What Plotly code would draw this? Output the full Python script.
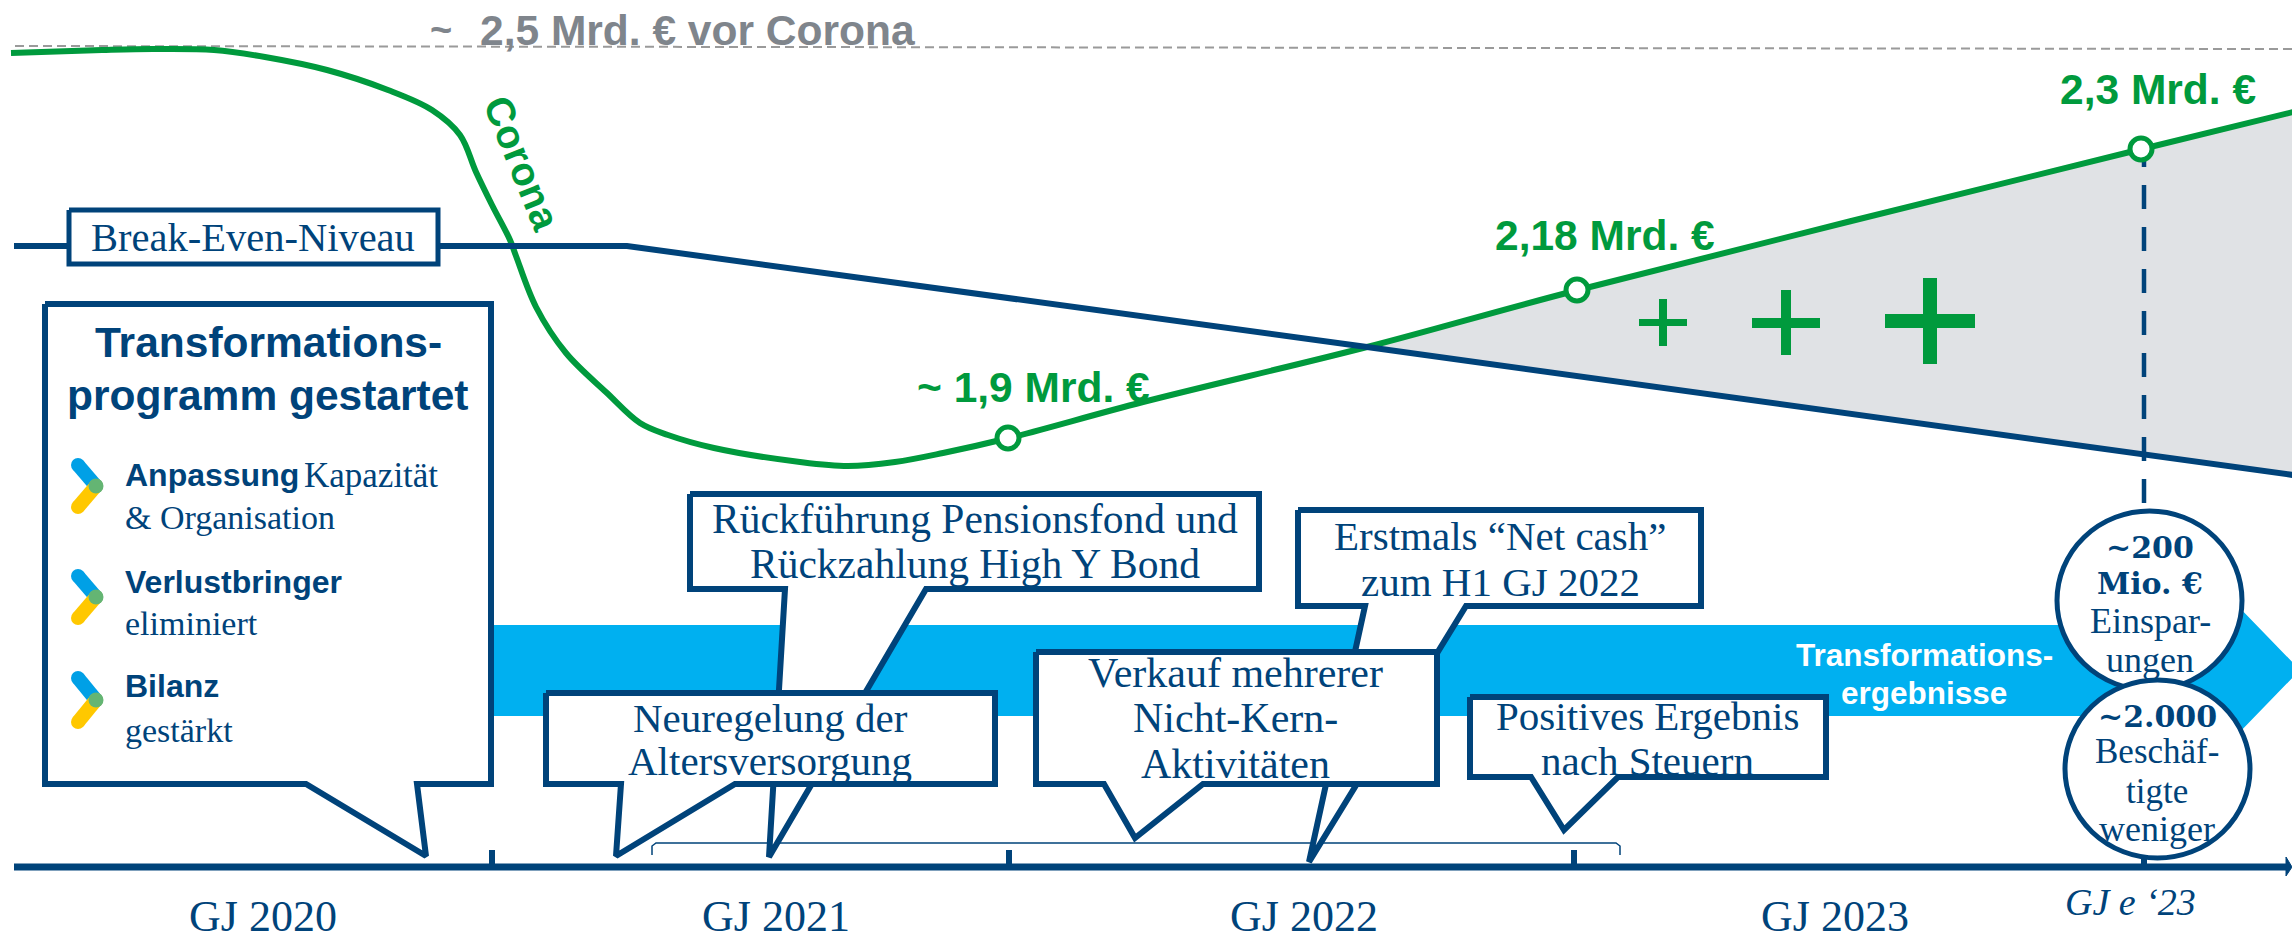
import plotly.graph_objects as go

NAVY = "#00437a"
GREEN = "#009a3d"
GREY_TEXT = "#7f858c"
SERIF = "Liberation Serif"
SANS = "Liberation Sans"

# ---- curves (chart units, x = time position, y = level position) ----
ebit_x = [11, 102, 153, 214, 265, 327, 388, 432, 460, 476, 492, 510, 516, 536, 566, 607, 640, 668, 714, 800, 848, 895, 943, 1009, 1143, 1367, 1578, 2142, 2293]
ebit_y = [53, 50, 49, 50, 57, 70, 90, 110, 135, 172, 205, 240, 256, 307, 353, 393, 423, 435, 448, 462, 466, 462, 453, 438, 402, 347, 290, 149, 112]
breakeven_x = [14, 627, 1367, 2293]
breakeven_y = [246, 246, 347, 475]
precorona_x = [15, 2292]
precorona_y = [46, 49]
gain_x = [1367, 1578, 2142, 2293, 2293]
gain_y = [347, 290, 149, 112, 475]
milestone_x = [1008, 1577, 2141]
milestone_y = [438, 290, 149]
milestone_labels = ["~ 1,9 Mrd. €", "2,18 Mrd. €", "2,3 Mrd. €"]
milestone_label_x = [1033, 1605, 2158]
milestone_label_y = [387, 235, 89]

# ---- timeline ----
year_labels = ["GJ 2020", "GJ 2021", "GJ 2022", "GJ 2023"]
year_x = [263, 776, 1304, 1835]
year_ticks = [492, 1009, 1574, 2144]

# ---- callouts ----
box_tp_x = [45, 491, 491, 417, 426, 306, 45, 45]
box_tp_y = [304, 304, 784, 784, 856, 784, 784, 304]
box_pension_x = [690, 1259, 1259, 926, 769, 785, 690, 690]
box_pension_y = [494, 494, 589, 589, 857, 589, 589, 494]
box_alters_x = [546, 995, 995, 735, 616, 621, 546, 546]
box_alters_y = [693, 693, 784, 784, 856, 784, 784, 693]
box_cash_x = [1298, 1701, 1701, 1466, 1309, 1365, 1298, 1298]
box_cash_y = [510, 510, 606, 606, 862, 606, 606, 510]
box_verkauf_x = [1036, 1437, 1437, 1203, 1135, 1104, 1036, 1036]
box_verkauf_y = [652, 652, 784, 784, 838, 784, 784, 652]
box_steuern_x = [1470, 1826, 1826, 1618, 1564, 1531, 1470, 1470]
box_steuern_y = [697, 697, 777, 777, 830, 777, 777, 697]
box_be_x = [69, 438, 438, 69, 69]
box_be_y = [210, 210, 264, 264, 210]

pension_text = ["Rückführung Pensionsfond und", "Rückzahlung High Y Bond"]
alters_text = ["Neuregelung der", "Altersversorgung"]
cash_text = ["Erstmals “Net cash”", "zum H1 GJ 2022"]
verkauf_text = ["Verkauf mehrerer", "Nicht-Kern-", "Aktivitäten"]
steuern_text = ["Positives Ergebnis", "nach Steuern"]

# ---- blue arrow band ----
band_x = [491, 2235, 2235, 2300, 2235, 2235, 491, 491]
band_y = [625, 625, 603, 670, 737, 716, 716, 625]

# ---- bullets in the programme box ----
bullet_tip_y = [486, 597, 700]
bullet_top_y = [465, 576, 678]
bullet_bot_y = [507, 618, 722]

fig = go.Figure()


def poly(x, y, line=None, width=0, fill=None, dash=None):
    fig.add_trace(go.Scatter(
        x=x, y=y, mode="lines",
        line=dict(color=line or "rgba(0,0,0,0)", width=width, dash=dash),
        fill="toself" if fill else None, fillcolor=fill,
        hoverinfo="skip", showlegend=False))


poly(gain_x, gain_y, fill="#e0e2e5")
poly(band_x, band_y, fill="#00b0f0")
poly(precorona_x, precorona_y, line="#9a9a9a", width=2, dash="9px,5px")
fig.add_trace(go.Scatter(x=ebit_x, y=ebit_y, mode="lines",
                         line=dict(color=GREEN, width=6, shape="spline", smoothing=1.0),
                         hoverinfo="skip", showlegend=False))
poly(breakeven_x, breakeven_y, line=NAVY, width=6)
poly([2144, 2144], [143, 503], line=NAVY, width=4.5, dash="24px,18px")
fig.add_trace(go.Scatter(x=milestone_x, y=milestone_y, mode="markers",
                         marker=dict(size=22, color="white", line=dict(color=GREEN, width=5)),
                         hoverinfo="skip", showlegend=False))

# timeline
poly([14, 2286], [867, 867], line=NAVY, width=7)
poly([2286, 2292, 2286, 2286], [857, 867, 876, 857], fill=NAVY, line=NAVY, width=1)
for t in year_ticks:
    poly([t, t], [850, 867], line=NAVY, width=6)
poly([652, 652, 656, 1616, 1620, 1620], [855, 846, 843, 843, 846, 855], line=NAVY, width=1.5)

# callouts, back to front
for bx, by in [(box_tp_x, box_tp_y), (box_pension_x, box_pension_y), (box_alters_x, box_alters_y),
               (box_cash_x, box_cash_y), (box_verkauf_x, box_verkauf_y), (box_steuern_x, box_steuern_y)]:
    poly(bx, by, line=NAVY, width=6, fill="white")
poly(box_be_x, box_be_y, line=NAVY, width=5, fill="white")

# chevron bullets
for tip, top, bot in zip(bullet_tip_y, bullet_top_y, bullet_bot_y):
    fig.add_trace(go.Scatter(x=[78, 96], y=[top, tip], mode="lines+markers",
                             line=dict(color="#00a0e6", width=14),
                             marker=dict(size=14, color="#00a0e6"), hoverinfo="skip", showlegend=False))
    fig.add_trace(go.Scatter(x=[96, 78], y=[tip, bot], mode="lines+markers",
                             line=dict(color="#ffc800", width=14),
                             marker=dict(size=14, color="#ffc800"), hoverinfo="skip", showlegend=False))
    fig.add_trace(go.Scatter(x=[96], y=[tip], mode="markers",
                             marker=dict(size=15, color="#64b573"), hoverinfo="skip", showlegend=False))

shapes = []
# plus signs
for cx, vt, vb, vw, hl, hr, ht, hb in [(1663, 299, 346, 8, 1639, 1687, 319, 326),
                                       (1786, 290, 355, 10, 1752, 1820, 318, 328),
                                       (1930, 278, 364, 14, 1885, 1975, 314, 328)]:
    shapes.append(dict(type="rect", x0=cx - vw / 2, x1=cx + vw / 2, y0=vt, y1=vb,
                       fillcolor=GREEN, line_width=0, layer="above"))
    shapes.append(dict(type="rect", x0=hl, x1=hr, y0=ht, y1=hb,
                       fillcolor=GREEN, line_width=0, layer="above"))
# ellipses
shapes.append(dict(type="circle", x0=2057, x1=2242, y0=511, y1=690,
                   fillcolor="white", line=dict(color=NAVY, width=5), layer="above"))
shapes.append(dict(type="circle", x0=2065, x1=2250, y0=680, y1=858,
                   fillcolor="white", line=dict(color=NAVY, width=5), layer="above"))

ann = []


def txt(x, y, s, size, color=NAVY, family=SERIF, anchor="center", angle=0):
    ann.append(dict(x=x, y=y, text=s, showarrow=False, xanchor=anchor, yanchor="middle",
                    font=dict(size=size, color=color, family=family), textangle=angle,
                    borderpad=0, borderwidth=0))


txt(430, 30, "<b>~</b>", 38, GREY_TEXT, SANS, "left")
txt(697, 30, "<b>2,5 Mrd. € vor Corona</b>", 42.5, GREY_TEXT, SANS)
txt(522, 163, "<b>Corona</b>", 40, GREEN, SANS, angle=68)
for s, x, y in zip(milestone_labels, milestone_label_x, milestone_label_y):
    txt(x, y, f"<b>{s}</b>", 42.5, GREEN, SANS)
txt(253, 237, "Break-Even-Niveau", 40.5)

txt(268, 342, "<b>Transformations-</b>", 42.5, NAVY, SANS)
txt(268, 395, "<b>programm gestartet</b>", 42.5, NAVY, SANS)
txt(125, 475, "<b>Anpassung</b>", 32, NAVY, SANS, "left")
txt(304, 475, "Kapazität", 35, NAVY, SERIF, "left")
txt(125, 517, "&amp; Organisation", 34, NAVY, SERIF, "left")
txt(125, 582, "<b>Verlustbringer</b>", 32, NAVY, SANS, "left")
txt(125, 623, "eliminiert", 34, NAVY, SERIF, "left")
txt(125, 686, "<b>Bilanz</b>", 32, NAVY, SANS, "left")
txt(125, 730, "gestärkt", 34, NAVY, SERIF, "left")

for s, y in zip(pension_text, [519, 564]):
    txt(975, y, s, 41.5)
for s, y in zip(alters_text, [718, 761]):
    txt(770, y, s, 41)
for s, y in zip(cash_text, [536, 582]):
    txt(1500, y, s, 41)
for s, y in zip(verkauf_text, [673, 718, 764]):
    txt(1235, y, s, 42)
for s, y in zip(steuern_text, [716, 761]):
    txt(1647, y, s, 41)

txt(1924, 655, "<b>Transformations-</b>", 31.5, "white", SANS)
txt(1924, 693, "<b>ergebnisse</b>", 31.5, "white", SANS)

txt(2150, 547, "<b>~200</b>", 30, NAVY, "DejaVu Serif")
txt(2150, 583, "<b>Mio. €</b>", 30, NAVY, "DejaVu Serif")
txt(2150, 621, "Einspar-", 36)
txt(2150, 660, "ungen", 36)
txt(2157, 716, "<b>~2.000</b>", 30, NAVY, "DejaVu Serif")
txt(2157, 751, "Beschäf-", 35)
txt(2157, 791, "tigte", 35)
txt(2157, 829, "weniger", 36)

for s, x in zip(year_labels, year_x):
    txt(x, 916, s, 44)
txt(2130, 902, "<i>GJ e ‘23</i>", 38)

fig.update_layout(
    width=2292, height=941, margin=dict(l=0, r=0, t=0, b=0),
    paper_bgcolor="white", plot_bgcolor="white", showlegend=False,
    xaxis=dict(range=[0, 2292], visible=False, fixedrange=True),
    yaxis=dict(range=[941, 0], visible=False, fixedrange=True),
    shapes=shapes, annotations=ann)

fig.write_html("out.html", config={"displayModeBar": False},
               post_script="document.body.style.margin='0';document.body.style.overflow='hidden';")
